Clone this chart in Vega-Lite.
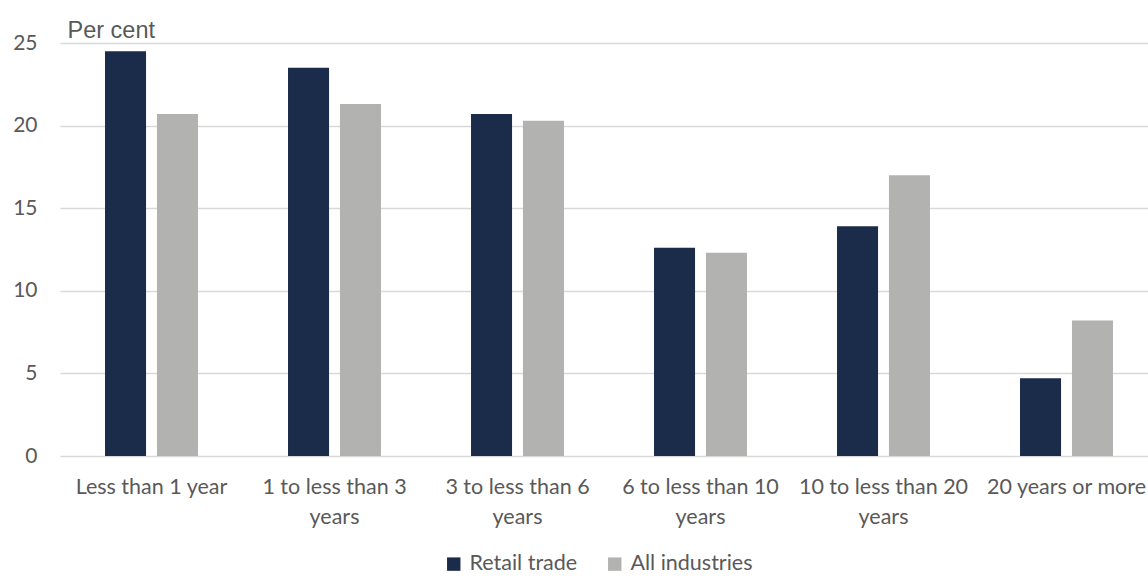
{
  "$schema": "https://vega.github.io/schema/vega-lite/v6.json",
  "autosize": {"type": "none"},
  "padding": {"left": 60, "top": 43, "right": 0, "bottom": 123},
  "width": 1098,
  "height": 413,
  "background": "white",
  "config": {
    "view": {"stroke": null},
    "font": "Lato",
    "axis": {"labelColor": "#595959", "titleColor": "#595959", "gridColor": "#d9d9d9", "gridWidth": 1.5}
  },
  "data": {
    "values": [
      {"duration": "Less than 1 year", "series": "Retail trade", "value": 24.5},
      {"duration": "Less than 1 year", "series": "All industries", "value": 20.7},
      {"duration": "1 to less than 3 years", "series": "Retail trade", "value": 23.5},
      {"duration": "1 to less than 3 years", "series": "All industries", "value": 21.3},
      {"duration": "3 to less than 6 years", "series": "Retail trade", "value": 20.7},
      {"duration": "3 to less than 6 years", "series": "All industries", "value": 20.3},
      {"duration": "6 to less than 10 years", "series": "Retail trade", "value": 12.6},
      {"duration": "6 to less than 10 years", "series": "All industries", "value": 12.3},
      {"duration": "10 to less than 20 years", "series": "Retail trade", "value": 13.9},
      {"duration": "10 to less than 20 years", "series": "All industries", "value": 17.0},
      {"duration": "20 years or more", "series": "Retail trade", "value": 4.7},
      {"duration": "20 years or more", "series": "All industries", "value": 8.2}
    ]
  },
  "mark": {"type": "bar"},
  "encoding": {
    "x": {
      "field": "duration",
      "type": "nominal",
      "sort": null,
      "scale": {"paddingInner": 0.492, "paddingOuter": 0.246},
      "axis": {
        "title": null,
        "labelAngle": 0,
        "domain": false,
        "ticks": false,
        "labelFontSize": 21.5,
        "labelPadding": 20,
        "labelLineHeight": 30,
        "labelLimit": 300,
        "labelExpr": "datum.value == '1 to less than 3 years' ? ['1 to less than 3','years'] : datum.value == '3 to less than 6 years' ? ['3 to less than 6','years'] : datum.value == '6 to less than 10 years' ? ['6 to less than 10','years'] : datum.value == '10 to less than 20 years' ? ['10 to less than 20','years'] : datum.value"
      }
    },
    "xOffset": {
      "field": "series",
      "type": "nominal",
      "sort": ["Retail trade", "All industries"],
      "scale": {"paddingInner": 0.21, "paddingOuter": 0}
    },
    "y": {
      "field": "value",
      "type": "quantitative",
      "scale": {"domain": [0, 25], "nice": false},
      "axis": {
        "values": [0, 5, 10, 15, 20, 25],
        "domain": false,
        "ticks": false,
        "labelFontSize": 21,
        "labelPadding": 23,
        "title": "Per cent",
        "titleAngle": 0,
        "titleFont": "Liberation Sans",
        "titleFontSize": 23.5,
        "titleFontWeight": "normal",
        "titleAlign": "left",
        "titleBaseline": "alphabetic",
        "titleX": 7,
        "titleY": -6
      }
    },
    "color": {
      "field": "series",
      "type": "nominal",
      "sort": ["Retail trade", "All industries"],
      "scale": {"domain": ["Retail trade", "All industries"], "range": ["#1b2b4a", "#b2b2b0"]},
      "legend": {
        "title": null,
        "orient": "none",
        "direction": "horizontal",
        "legendX": 383,
        "legendY": 510,
        "symbolType": "square",
        "symbolSize": 180,
        "symbolStrokeWidth": 0,
        "labelFontSize": 21.5,
        "labelColor": "#595959",
        "labelOffset": 5,
        "columnPadding": 26
      }
    }
  }
}
